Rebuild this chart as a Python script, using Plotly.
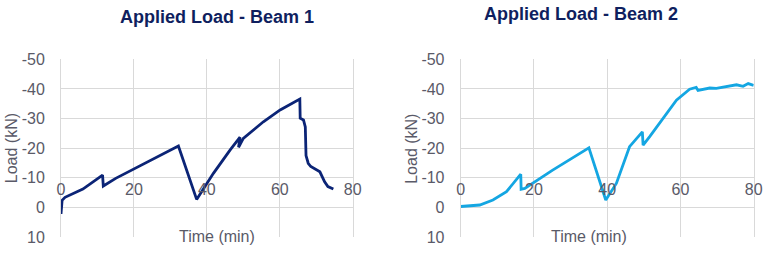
import plotly.graph_objects as go

# ---- data ----
beam1_time = [0.0, 0.1, 0.3, 1.1, 6.0, 11.4, 11.6, 15.0, 22.0, 32.2, 37.2, 41.8, 46.4, 49.1, 48.7,
              50.0, 55.5, 60.1, 65.5, 65.6, 66.5, 67.0, 67.2, 67.8, 68.5, 71.0, 72.3, 73.2, 74.7]
beam1_load = [2.2, -1.0, -2.4, -3.4, -6.2, -10.9, -7.2, -9.8, -14.3, -20.7, -2.7, -11.5, -19.4, -23.7, -20.3,
              -23.3, -28.9, -32.9, -36.6, -30.1, -29.5, -27.2, -17.5, -14.9, -13.8, -12.0, -8.6, -7.0, -6.2]

beam2_time = [0.0, 2.5, 5.2, 8.8, 12.5, 16.4, 16.5, 17.5, 25.0, 35.0, 39.6, 42.5, 46.1, 49.6, 49.8,
              51.6, 55.2, 58.9, 62.5, 64.3, 64.8, 68.0, 69.8, 73.4, 75.3, 77.1, 78.5, 80.0]
beam2_load = [-0.3, -0.5, -0.8, -2.5, -5.3, -11.2, -6.1, -6.4, -12.5, -20.1, -2.5, -8.1, -20.5, -25.5, -21.0,
              -23.9, -30.1, -36.2, -39.9, -40.5, -39.5, -40.3, -40.2, -41.1, -41.4, -40.9, -41.8, -41.2]

y_ticks = [-50, -40, -30, -20, -10, 0, 10]
y_tick_labels = ["-50", "-40", "-30", "-20", "-10", "0", "10"]
x_ticks = [0, 20, 40, 60, 80]
x_tick_labels = ["0", "20", "40", "60", "80"]

titles = ["Applied Load - Beam 1", "Applied Load - Beam 2"]
x_title = "Time (min)"
y_title = "Load (kN)"

W, H = 765, 255
TICK_COLOR = "#5a5a68"
GRID = "#d9d9d9"
TITLE_COLOR = "#0f1f5f"
FONT = "Liberation Sans, Arial, sans-serif"

fig = go.Figure()
fig.add_trace(go.Scatter(x=beam1_time, y=beam1_load, mode="lines",
                         line=dict(color="#0b2476", width=2.8), xaxis="x", yaxis="y",
                         showlegend=False, hoverinfo="skip"))
fig.add_trace(go.Scatter(x=beam2_time, y=beam2_load, mode="lines",
                         line=dict(color="#14a6e2", width=2.8), xaxis="x2", yaxis="y2",
                         showlegend=False, hoverinfo="skip"))

ydom = [18 / H, (H - 59.3) / H]
zero_pos = (H - 207.3) / H


def xax(domain):
    return dict(domain=domain, range=[0, 80], anchor="free", position=zero_pos, side="top",
                tickvals=x_ticks, ticktext=x_tick_labels, showgrid=True, gridcolor=GRID,
                gridwidth=1, zeroline=False, showline=False, ticks="", automargin=False,
                ticklabelstandoff=9,
                tickfont=dict(family=FONT, size=16, color=TICK_COLOR))


def yax(anchor):
    return dict(domain=ydom, range=[10, -50], anchor=anchor, tickvals=y_ticks,
                ticktext=y_tick_labels, showgrid=True, gridcolor=GRID, gridwidth=1,
                zeroline=False, showline=True, linecolor=GRID, linewidth=1, mirror=True,
                ticks="", ticklabelstandoff=12, automargin=False,
                tickfont=dict(family=FONT, size=16, color=TICK_COLOR))


x1dom = [61 / W, 352.7 / W]
x2dom = [460.7 / W, 753.7 / W]

fig.update_layout(
    width=W, height=H, margin=dict(l=0, r=0, t=0, b=0, pad=0, autoexpand=False),
    paper_bgcolor="white", plot_bgcolor="white",
    xaxis=xax(x1dom), yaxis=yax("x"),
    xaxis2=xax(x2dom), yaxis2=yax("x2"),
    showlegend=False,
)

annots = []
for title, cx, cy in [(titles[0], 217, 17), (titles[1], 581, 13.7)]:
    annots.append(dict(text="<b>%s</b>" % title, x=cx / W, y=1 - cy / H, xref="paper", yref="paper",
                       showarrow=False, xanchor="center", yanchor="middle",
                       font=dict(family=FONT, size=18, color=TITLE_COLOR)))
for cx in [216.7, 588.8]:
    annots.append(dict(text=x_title, x=cx / W, y=1 - 236 / H, xref="paper", yref="paper",
                       showarrow=False, xanchor="center", yanchor="middle",
                       font=dict(family=FONT, size=16, color=TICK_COLOR)))
for cx in [11.7, 411.3]:
    annots.append(dict(text=y_title, x=cx / W, y=1 - 148.5 / H, xref="paper", yref="paper",
                       showarrow=False, xanchor="center", yanchor="middle", textangle=-90,
                       font=dict(family=FONT, size=16, color=TICK_COLOR)))
fig.update_layout(annotations=annots)

fig.write_html("out.html", config={"displayModeBar": False},
               post_script="document.body.style.margin='0';document.body.style.overflow='hidden';")
